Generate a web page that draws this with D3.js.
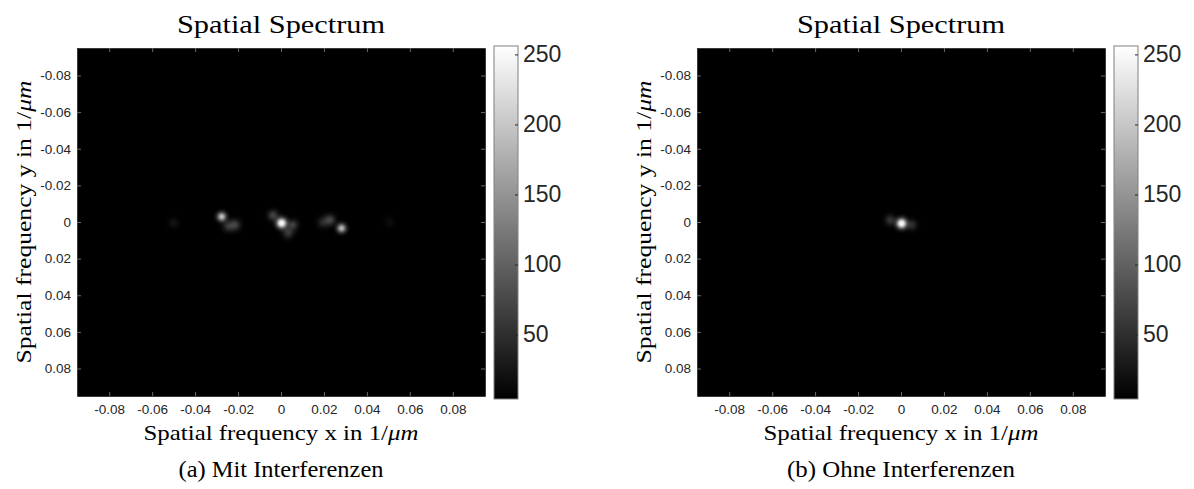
<!DOCTYPE html>
<html lang="de">
  <head>
    <meta charset="UTF-8" />
    <title>Spatial Spectrum</title>
    <style>
      body { margin: 0; background: #fff; }
      .tick text { font-family: "Liberation Sans", Arial, sans-serif; fill: #262626; }
      .serif { font-family: "Liberation Serif", "DejaVu Serif", serif; fill: #000; }
    </style>
  </head>
  <body>
    <svg></svg>
    <script src="https://cdnjs.cloudflare.com/ajax/libs/d3/7.8.5/d3.min.js"></script>
    <script>
      // data
      const freqExtent = [-0.095, 0.095];
      const xTicks = [-0.08, -0.06, -0.04, -0.02, 0, 0.02, 0.04, 0.06, 0.08];
      const yTicks = [-0.08, -0.06, -0.04, -0.02, 0, 0.02, 0.04, 0.06, 0.08];
      const cbExtent = [4, 256];
      const cbTicks = [50, 100, 150, 200, 250];
      const captions = ["(a) Mit Interferenzen", "(b) Ohne Interferenzen"];

      // spectral peaks: fx, fy (1/um), value (0..255), sigma (1/um)
      const spotsMit = [
        { fx: 0.0003, fy: 0.0006, v: 255, s: 0.0016 },
        { fx: 0.0003, fy: 0.0006, v: 160, s: 0.0010 },
        { fx: -0.0037, fy: -0.0036, v: 70, s: 0.0016 },
        { fx: 0.0055, fy: 0.0016, v: 65, s: 0.0016 },
        { fx: 0.0033, fy: 0.0058, v: 60, s: 0.0017 },
        { fx: -0.0276, fy: -0.0029, v: 200, s: 0.0014 },
        { fx: -0.0214, fy: 0.0016, v: 65, s: 0.0017 },
        { fx: -0.0246, fy: 0.0022, v: 55, s: 0.0017 },
        { fx: 0.0282, fy: 0.0034, v: 190, s: 0.0014 },
        { fx: 0.0228, fy: -0.0011, v: 70, s: 0.0017 },
        { fx: 0.0195, fy: 0.0002, v: 40, s: 0.0017 },
        { fx: -0.0500, fy: 0.0005, v: 20, s: 0.0016 },
        { fx: 0.0505, fy: 0.0000, v: 12, s: 0.0016 }
      ];
      const spotsOhne = [
        { fx: 0.0003, fy: 0.0008, v: 255, s: 0.0016 },
        { fx: 0.0003, fy: 0.0008, v: 160, s: 0.0010 },
        { fx: -0.0050, fy: -0.0010, v: 55, s: 0.0016 },
        { fx: 0.0050, fy: 0.0016, v: 50, s: 0.0016 }
      ];

      const W = 1194, H = 489;
      const svg = d3.select("svg").attr("width", W).attr("height", H);
      const defs = svg.append("defs");

      // gaussian-ish spot profile
      const spot = defs.append("radialGradient").attr("id", "spot");
      [[0, 1], [0.2, 0.835], [0.4, 0.487], [0.6, 0.197], [0.8, 0.056], [1, 0]].forEach(function (st) {
        spot.append("stop").attr("offset", st[0]).attr("stop-color", "#fff").attr("stop-opacity", st[1]);
      });

      const cbGrad = defs.append("linearGradient").attr("id", "cbgrad")
        .attr("x1", 0).attr("y1", 1).attr("x2", 0).attr("y2", 0);
      cbGrad.append("stop").attr("offset", 0).attr("stop-color", "#000");
      cbGrad.append("stop").attr("offset", 1).attr("stop-color", "#fff");

      const fmt = function (d) { return d === 0 ? "0" : d.toFixed(2); };

      // serif text, stretched to the width seen in the picture
      function label(g, size, len) {
        return g.append("text").attr("class", "serif").attr("text-anchor", "middle")
          .attr("font-size", size).attr("textLength", len).attr("lengthAdjust", "spacingAndGlyphs");
      }

      function panel(dx, spots, caption, capLen, idx) {
        const g = svg.append("g").attr("transform", "translate(" + dx + ",0)");
        const x = d3.scaleLinear().domain(freqExtent).range([77, 485]);
        const y = d3.scaleLinear().domain(freqExtent).range([48, 396]);
        const cx = (x.range()[0] + x.range()[1]) / 2;

        g.append("clipPath").attr("id", "clip" + idx).append("rect")
          .attr("x", 77).attr("y", 48).attr("width", 408).attr("height", 348);

        const img = g.append("g").attr("clip-path", "url(#clip" + idx + ")");
        img.append("rect").attr("x", 77).attr("y", 48).attr("width", 408).attr("height", 348).attr("fill", "#000");
        img.selectAll("circle").data(spots).enter().append("circle")
          .attr("cx", function (d) { return x(d.fx); })
          .attr("cy", function (d) { return y(d.fy); })
          .attr("r", function (d) { return x(3 * d.s) - x(0); })
          .attr("fill", "url(#spot)")
          .attr("fill-opacity", function (d) { return Math.min(1, d.v / 255); });

        // axes with inward ticks on all sides
        const ax = function (sel) {
          sel.select(".domain").attr("stroke", "#3a3a3a");
          sel.selectAll(".tick line").attr("stroke", "#6a6a6a");
        };
        g.append("g").attr("transform", "translate(0,396)")
          .call(d3.axisBottom(x).tickValues(xTicks).tickFormat(fmt).tickSizeInner(-4).tickSizeOuter(0).tickPadding(8))
          .call(ax).selectAll("text").attr("font-size", 13.5);
        g.append("g").attr("transform", "translate(0,48)")
          .call(d3.axisTop(x).tickValues(xTicks).tickFormat("").tickSizeInner(-4).tickSizeOuter(0))
          .call(ax);
        g.append("g").attr("transform", "translate(77,0)")
          .call(d3.axisLeft(y).tickValues(yTicks).tickFormat(fmt).tickSizeInner(-4).tickSizeOuter(0).tickPadding(6))
          .call(ax).selectAll("text").attr("font-size", 13.5);
        g.append("g").attr("transform", "translate(485,0)")
          .call(d3.axisRight(y).tickValues(yTicks).tickFormat("").tickSizeInner(-4).tickSizeOuter(0))
          .call(ax);

        // colorbar
        const c = d3.scaleLinear().domain(cbExtent).range([399, 46]);
        g.append("rect").attr("x", 494).attr("y", 46).attr("width", 24).attr("height", 353)
          .attr("fill", "url(#cbgrad)").attr("stroke", "#808080").attr("stroke-width", 1);
        const cbAxis = g.append("g").attr("transform", "translate(518,0)")
          .call(d3.axisRight(c).tickValues(cbTicks).tickSizeInner(-3).tickSizeOuter(0).tickPadding(5));
        cbAxis.select(".domain").remove();
        cbAxis.selectAll(".tick line").attr("stroke", "#262626");
        cbAxis.selectAll("text").attr("font-size", 23);

        // texts
        label(g, 25, 208).attr("x", cx).attr("y", 33).text("Spatial Spectrum");

        const xl = label(g, 21, 275).attr("x", cx).attr("y", 440);
        xl.append("tspan").text("Spatial frequency x in 1/");
        xl.append("tspan").attr("font-style", "italic").text("μm");

        const yl = label(g, 21, 283).attr("transform", "translate(31," + y(0) + ") rotate(-90)");
        yl.append("tspan").text("Spatial frequency y in 1/");
        yl.append("tspan").attr("font-style", "italic").text("μm");

        label(g, 23, capLen).attr("x", cx).attr("y", 477).text(caption);
      }

      panel(0, spotsMit, captions[0], 205, 0);
      panel(620, spotsOhne, captions[1], 228, 1);
    </script>
  </body>
</html>
